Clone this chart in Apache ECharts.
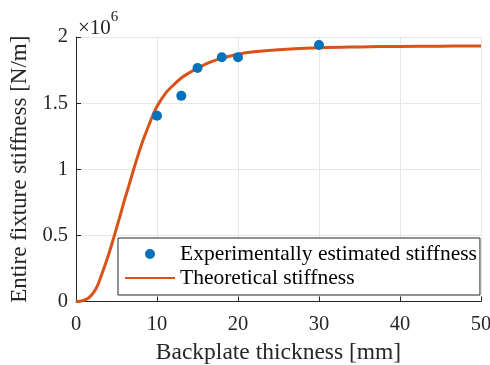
<!DOCTYPE html>
<html>
<head>
<meta charset="utf-8">
<script src="https://cdn.jsdelivr.net/npm/echarts@6/dist/echarts.min.js"></script>
<style>
  html, body { margin: 0; padding: 0; background: #fff; }
  #chart-container { width: 490px; height: 365px; }
</style>
</head>
<body>
<div id="chart-container"></div>
<script>
var dom = document.getElementById('chart-container');
var myChart = echarts.init(dom, null, { renderer: 'canvas' });

// measured points (thickness mm, stiffness x10^6 N/m)
const expThickness = [10, 13, 15, 18, 20, 30];
const expStiffness = [1.405, 1.555, 1.765, 1.847, 1.847, 1.94];

// theoretical curve
const theoThickness = [0, 0.5, 1, 1.5, 2, 2.5, 3, 3.5, 4, 4.5, 5, 5.5, 6, 6.5, 7, 7.5, 8, 8.5, 9, 9.5,
    10, 11, 12, 13, 14, 15, 16, 17, 18, 20, 22, 25, 30, 35, 40, 45, 50];
const theoStiffness = [0, 0.002, 0.01, 0.025, 0.055, 0.1, 0.175, 0.26, 0.35, 0.45, 0.555, 0.66, 0.77, 0.87, 0.975, 1.075, 1.17, 1.255, 1.335, 1.41,
    1.475, 1.57, 1.635, 1.69, 1.73, 1.765, 1.795, 1.82, 1.84, 1.87, 1.888, 1.903, 1.918, 1.925, 1.929, 1.931, 1.932];

const xTicks = [0, 10, 20, 30, 40, 50];
const yTicks = [0, 0.5, 1, 1.5, 2];

const font = 'Liberation Serif';
const axisColor = '#262626';

var option = {
    animation: false,
    backgroundColor: '#fff',
    grid: { left: 76, right: 9, top: 37, bottom: 63.5, containLabel: false, outerBoundsMode: 'none' },
    legend: {
        orient: 'vertical',
        left: 118,
        top: 238,
        padding: [5, 3, 6, 6],
        itemGap: 2,
        itemWidth: 50,
        itemHeight: 10,
        backgroundColor: '#fff',
        borderColor: axisColor,
        borderWidth: 1,
        textStyle: { fontFamily: font, fontSize: 21.5, color: '#000', lineHeight: 22 },
        data: [
            'Experimentally estimated stiffness',
            { name: 'Theoretical stiffness', itemStyle: { opacity: 0 } }
        ]
    },
    graphic: [{
        type: 'text',
        left: 78,
        top: 10,
        style: {
            text: '{a|×10}{b|6}',
            rich: {
                a: { fontFamily: font, fontSize: 21, fill: axisColor, padding: [8, 0, 0, 0] },
                b: { fontFamily: font, fontSize: 15, fill: axisColor, verticalAlign: 'top' }
            }
        }
    }],
    xAxis: {
        type: 'value',
        min: xTicks[0],
        max: xTicks[xTicks.length - 1],
        interval: 10,
        name: 'Backplate thickness [mm]',
        nameLocation: 'middle',
        nameGap: 39,
        nameTextStyle: { fontFamily: font, fontSize: 23.5, color: axisColor },
        axisLine: { onZero: false, lineStyle: { color: axisColor, width: 1 } },
        axisTick: { inside: true, length: 5, lineStyle: { color: axisColor } },
        axisLabel: { fontFamily: font, fontSize: 20.5, color: axisColor, margin: 13 },
        splitLine: { show: true, lineStyle: { color: '#e6e6e6', width: 1 } }
    },
    yAxis: {
        type: 'value',
        min: yTicks[0],
        max: yTicks[yTicks.length - 1],
        interval: 0.5,
        name: 'Entire fixture stiffness [N/m]',
        nameLocation: 'middle',
        nameGap: 32,
        nameTextStyle: { fontFamily: font, fontSize: 23, color: axisColor },
        axisLine: { show: true, onZero: false, lineStyle: { color: axisColor, width: 1 } },
        axisTick: { show: true, inside: true, length: 5, lineStyle: { color: axisColor } },
        axisLabel: { fontFamily: font, fontSize: 20.5, color: axisColor, margin: 8 },
        splitLine: { show: true, lineStyle: { color: '#e6e6e6', width: 1 } }
    },
    series: [
        {
            name: 'Experimentally estimated stiffness',
            type: 'scatter',
            symbol: 'circle',
            symbolSize: 10,
            itemStyle: { color: '#0072BD', opacity: 1 },
            data: expThickness.map(function (t, i) { return [t, expStiffness[i]]; }),
            z: 3
        },
        {
            name: 'Theoretical stiffness',
            type: 'line',
            smooth: 0.4,
            showSymbol: false,
            symbol: 'none',
            lineStyle: { color: '#D95319', width: 3 },
            itemStyle: { color: '#D95319' },
            data: theoThickness.map(function (t, i) { return [t, theoStiffness[i]]; }),
            z: 2
        }
    ]
};

if (option && typeof option === 'object') {
    myChart.setOption(option);
}

window.addEventListener('resize', myChart.resize);
</script>
</body>
</html>
